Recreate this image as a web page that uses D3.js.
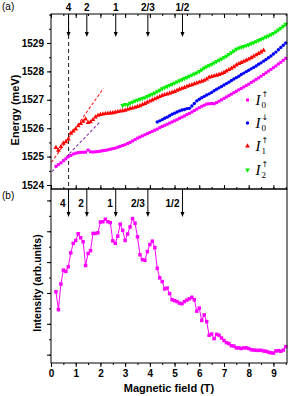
<!DOCTYPE html>
<html>
<head>
<meta charset="utf-8">
<script src="https://cdn.jsdelivr.net/npm/d3@7"></script>
<style>
  body { margin: 0; background: #fff; }
  svg text { font-family: "Liberation Sans", Arial, sans-serif; }
</style>
</head>
<body>
<div id="chart"></div>
<script>
// page size (should match the window)
var w = 291;
var h = 396;

// ---- data ----
var fieldStep = 0.1;

// I0 up (magenta), from 0.2 T
var i0upStart = 0.2;
var i0up = [1524.66,1524.72,1524.78,1524.85,1524.92,1524.99,1525.04,1525.09,1525.12,1525.14,
  1525.15,1525.15,1525.16,1525.23,1525.17,1525.16,1525.17,1525.18,1525.19,1525.21,
  1525.22,1525.24,1525.26,1525.28,1525.30,1525.33,1525.36,1525.39,1525.42,1525.46,
  1525.50,1525.55,1525.60,1525.65,1525.69,1525.73,1525.77,1525.81,1525.85,1525.89,
  1525.93,1525.97,1526.02,1526.06,1526.10,1526.14,1526.18,1526.22,1526.26,1526.30,
  1526.35,1526.39,1526.43,1526.48,1526.52,1526.57,1526.62,1526.67,1526.72,1526.77,
  1526.81,1526.85,1526.86,1526.87,1526.86,1526.90,1526.95,1527.00,1527.05,1527.10,
  1527.15,1527.20,1527.25,1527.30,1527.35,1527.40,1527.45,1527.50,1527.55,1527.61,
  1527.66,1527.72,1527.77,1527.83,1527.89,1527.95,1528.01,1528.07,1528.13,1528.19,
  1528.26,1528.32,1528.39,1528.46];

// I0 down (blue), from 4.3 T
var i0downStart = 4.3;
var i0down = [1526.22,1526.26,1526.30,1526.35,1526.39,1526.44,1526.49,1526.53,1526.57,1526.61,
  1526.64,1526.66,1526.69,1526.70,1526.78,1526.87,1526.96,1527.02,1527.07,1527.12,
  1527.17,1527.21,1527.26,1527.32,1527.37,1527.42,1527.47,1527.52,1527.57,1527.62,
  1527.68,1527.73,1527.78,1527.83,1527.89,1527.94,1527.99,1528.04,1528.09,1528.14,
  1528.19,1528.25,1528.30,1528.36,1528.42,1528.48,1528.54,1528.61,1528.68,1528.76,
  1528.84,1528.92,1529.00];

// I1 up (red), from 0.2 T
var i1upStart = 0.2;
var i1up = [1525.32,1525.22,1525.35,1525.47,1525.52,1525.62,1525.82,1525.90,1525.97,1526.08,
  1526.16,1526.24,1526.32,1526.20,1526.22,1526.30,1526.39,1526.45,1526.48,1526.50,
  1526.51,1526.52,1526.53,1526.54,1526.56,1526.58,1526.60,1526.61,1526.63,1526.66,
  1526.69,1526.71,1526.73,1526.76,1526.79,1526.83,1526.87,1526.91,1526.95,1526.99,
  1527.03,1527.07,1527.11,1527.15,1527.18,1527.20,1527.23,1527.26,1527.29,1527.33,
  1527.37,1527.40,1527.43,1527.47,1527.50,1527.53,1527.56,1527.59,1527.62,1527.65,
  1527.68,1527.73,1527.79,1527.82,1527.84,1527.86,1527.89,1527.92,1527.96,1528.01,
  1528.06,1528.11,1528.16,1528.22,1528.27,1528.31,1528.35,1528.39,1528.43,1528.48,
  1528.53,1528.58,1528.63,1528.68,1528.74];

// I2 up (green), from 2.9 T
var i2upStart = 2.9;
var i2up = [1526.80,1526.84,1526.82,1526.88,1526.92,1526.96,1526.99,1527.02,1527.05,1527.08,
  1527.12,1527.16,1527.20,1527.24,1527.29,1527.34,1527.39,1527.43,1527.47,1527.51,
  1527.55,1527.59,1527.63,1527.67,1527.71,1527.75,1527.79,1527.83,1527.87,1527.91,
  1527.95,1528.00,1528.06,1528.12,1528.17,1528.21,1528.25,1528.30,1528.35,1528.40,
  1528.44,1528.49,1528.54,1528.60,1528.66,1528.72,1528.78,1528.82,1528.85,1528.88,
  1528.91,1528.94,1528.98,1529.01,1529.05,1529.09,1529.13,1529.17,1529.21,1529.25,
  1529.29,1529.34,1529.40,1529.46,1529.52,1529.59,1529.66];

// PL intensity (panel b), from 0.2 T
var intensityStart = 0.2;
var intensity = [2.04,1.46,2.29,2.74,2.70,2.85,3.30,3.61,3.70,3.92,
  3.79,3.66,2.89,3.28,3.37,3.93,3.93,3.95,4.30,4.31,
  4.39,4.31,4.28,3.69,3.61,3.84,4.23,4.03,3.70,3.91,
  4.14,4.41,4.26,3.82,3.24,3.08,3.06,3.34,3.57,3.68,
  3.47,2.80,2.49,2.37,2.13,2.16,1.98,1.78,1.75,1.72,
  1.67,1.65,1.72,1.77,1.81,1.86,1.78,1.41,1.51,1.11,
  1.29,1.07,0.63,0.67,0.52,0.66,0.63,0.54,0.46,0.39,
  0.36,0.29,0.28,0.22,0.22,0.20,0.22,0.22,0.20,0.16,
  0.15,0.14,0.14,0.14,0.12,0.11,0.08,0.06,0.05,0.12,
  0.13,0.11,0.15,0.26];

// filling factor arrows
var nuLabels = ["4", "2", "1", "2/3", "1/2"];
var nuFields = [0.71, 1.45, 2.62, 3.92, 5.32];

// guide lines (dashed) in panel a: [B, E] end points
var redGuide = [[0.02, 1524.80], [2.12, 1527.40]];
var purpleGuide = [[0.04, 1524.47], [1.97, 1526.21]];
var nu4Field = 0.71;

var energyTicks = [1524, 1525, 1526, 1527, 1528, 1529];
var fieldTicks = [0, 1, 2, 3, 4, 5, 6, 7, 8, 9];

// ---- layout ----
var left = 51, right = 287;
var aTop = 14, aBot = 189, bTop = 189, bBot = 363;

var svg = d3.select('#chart').append('svg')
  .attr('width', w)
  .attr('height', h);

var x = d3.scaleLinear().domain([0, 9.55]).range([left, right]);
var yE = d3.scaleLinear().domain([1523.86, 1530.02]).range([aBot, aTop]);
var yI = d3.scaleLinear().domain([-0.27, 5.37]).range([bBot, bTop]);

function toPoints(start, vals) {
  return vals.map(function(v, i) { return [+(start + i * fieldStep).toFixed(2), v]; });
}

var half = d3.range(0, 9.6, 0.5);

// axis helper: draws major + minor ticks, removes the domain path
function drawAxis(axisFn, scale, tr, major, minor, majorLen, minorLen, labels) {
  var gMin = svg.append('g').attr('transform', tr)
    .call(axisFn(scale).tickValues(minor).tickSize(minorLen).tickFormat(''));
  var gMaj = svg.append('g').attr('transform', tr)
    .call(axisFn(scale).tickValues(major).tickSize(majorLen).tickPadding(3)
      .tickFormat(labels ? d3.format('d') : ''));
  [gMin, gMaj].forEach(function(g) {
    g.select('.domain').remove();
    g.selectAll('line').attr('stroke', '#000');
  });
  gMaj.selectAll('text')
    .attr('fill', '#000')
    .style('font-size', '10px')
    .style('font-weight', 'bold');
}

// ---------- panel (a) ----------
drawAxis(d3.axisLeft, yE, 'translate(' + left + ',0)', energyTicks,
  d3.range(1524, 1530.1, 0.5), 4, 2, true);
drawAxis(d3.axisBottom, x, 'translate(0,' + aTop + ')', fieldTicks, half, 4, 2, false);
drawAxis(d3.axisTop, x, 'translate(0,' + aBot + ')', fieldTicks, half, 4, 2, false);

// dashed guides
var line = d3.line().x(function(d) { return x(d[0]); }).y(function(d) { return yE(d[1]); });
svg.append('path').attr('d', line(redGuide))
  .attr('stroke', '#ff2020').attr('stroke-width', 1.1).attr('stroke-dasharray', '3,2').attr('fill', 'none');
svg.append('path').attr('d', line(purpleGuide))
  .attr('stroke', '#9030b0').attr('stroke-width', 1.1).attr('stroke-dasharray', '3,2').attr('fill', 'none');
svg.append('line')
  .attr('x1', x(nu4Field)).attr('x2', x(nu4Field))
  .attr('y1', aTop).attr('y2', aBot)
  .attr('stroke', '#333').attr('stroke-width', 1.1).attr('stroke-dasharray', '4,3');

var series = [
  { pts: toPoints(i0upStart, i0up), color: '#ff00ff', sym: d3.symbolSquare, size: 9, rot: 0 },
  { pts: toPoints(i0downStart, i0down), color: '#0000ff', sym: d3.symbolCircle, size: 9, rot: 0 },
  { pts: toPoints(i1upStart, i1up), color: '#ff0000', sym: d3.symbolTriangle, size: 10, rot: 0 },
  { pts: toPoints(i2upStart, i2up), color: '#00ee00', sym: d3.symbolTriangle, size: 10, rot: 180 }
];

series.forEach(function(s) {
  svg.append('g').selectAll('path')
    .data(s.pts)
    .enter().append('path')
    .attr('d', d3.symbol().type(s.sym).size(s.size))
    .attr('transform', function(d) {
      return 'translate(' + x(d[0]) + ',' + yE(d[1]) + ') rotate(' + s.rot + ')';
    })
    .attr('fill', s.color);
});

// legend
var legendRows = [
  { sub: '0', sup: '\u2191' },
  { sub: '0', sup: '\u2193' },
  { sub: '1', sup: '\u2191' },
  { sub: '2', sup: '\u2191' }
];
var legendY = [100, 123, 146, 170];
legendRows.forEach(function(r, i) {
  var s = series[i];
  var g = svg.append('g').attr('transform', 'translate(247.5,' + legendY[i] + ')');
  g.append('path')
    .attr('d', d3.symbol().type(s.sym).size(s.size))
    .attr('transform', 'rotate(' + s.rot + ')')
    .attr('fill', s.color);
  g.append('text').attr('x', 8).attr('y', 5)
    .style('font-family', '"Liberation Serif", serif')
    .style('font-style', 'italic').style('font-size', '15px')
    .text('I');
  g.append('text').attr('x', 14).attr('y', 8)
    .style('font-family', '"Liberation Serif", serif')
    .style('font-size', '9px')
    .text(r.sub);
  g.append('text').attr('x', 14).attr('y', -3)
    .style('font-family', '"DejaVu Sans", sans-serif')
    .style('font-size', '8px')
    .text(r.sup);
});

svg.append('rect')
  .attr('x', left).attr('y', aTop).attr('width', right - left).attr('height', aBot - aTop)
  .attr('fill', 'none').attr('stroke', '#000');

// arrows panel (a)
function arrow(xp, y0, y1) {
  svg.append('line').attr('x1', xp).attr('x2', xp).attr('y1', y0).attr('y2', y1 - 4)
    .attr('stroke', '#000').attr('stroke-width', 1);
  svg.append('path')
    .attr('d', 'M' + (xp - 2) + ',' + (y1 - 5) + 'L' + (xp + 2) + ',' + (y1 - 5) + 'L' + xp + ',' + y1 + 'Z')
    .attr('fill', '#000');
}
nuFields.forEach(function(f, i) {
  arrow(x(f), aTop, 37);
  svg.append('text').attr('x', x(f)).attr('y', 11)
    .attr('text-anchor', 'middle')
    .style('font-size', '10px').style('font-weight', 'bold')
    .text(nuLabels[i]);
});

// Energy label
svg.append('text')
  .attr('transform', 'translate(19,110) rotate(-90)')
  .attr('text-anchor', 'middle')
  .style('font-size', '11px').style('font-weight', 'bold')
  .text('Energy (meV)');

svg.append('text').attr('x', 2).attr('y', 10).style('font-size', '10px').text('(a)');

// ---------- panel (b) ----------
drawAxis(d3.axisLeft, yI, 'translate(' + left + ',0)', [0, 1, 2, 3, 4, 5],
  d3.range(0, 5.1, 0.5), 4, 2, false);
drawAxis(d3.axisBottom, x, 'translate(0,' + bBot + ')', fieldTicks, half, 4, 2, true);

var ipts = toPoints(intensityStart, intensity);
var iline = d3.line().x(function(d) { return x(d[0]); }).y(function(d) { return yI(d[1]); });
svg.append('path').attr('d', iline(ipts))
  .attr('fill', 'none').attr('stroke', '#ff00ff').attr('stroke-width', 1);
svg.append('g').selectAll('path')
  .data(ipts)
  .enter().append('path')
  .attr('d', d3.symbol().type(d3.symbolSquare).size(12))
  .attr('transform', function(d) { return 'translate(' + x(d[0]) + ',' + yI(d[1]) + ')'; })
  .attr('fill', '#ff00ff');

svg.append('rect')
  .attr('x', left).attr('y', bTop).attr('width', right - left).attr('height', bBot - bTop)
  .attr('fill', 'none').attr('stroke', '#000');

nuFields.forEach(function(f, i) {
  arrow(x(f), bTop, 217);
  svg.append('text').attr('x', x(f) - 3).attr('y', 207)
    .attr('text-anchor', 'end')
    .style('font-size', '10px').style('font-weight', 'bold')
    .text(nuLabels[i]);
});

svg.append('text')
  .attr('transform', 'translate(41,283) rotate(-90)')
  .attr('text-anchor', 'middle')
  .style('font-size', '10.5px').style('font-weight', 'bold')
  .text('Intensity (arb.units)');

svg.append('text').attr('x', 2).attr('y', 199).style('font-size', '10px').text('(b)');

svg.append('text')
  .attr('x', 169).attr('y', 392)
  .attr('text-anchor', 'middle')
  .style('font-size', '11px').style('font-weight', 'bold')
  .text('Magnetic field (T)');
</script>
</body>
</html>
